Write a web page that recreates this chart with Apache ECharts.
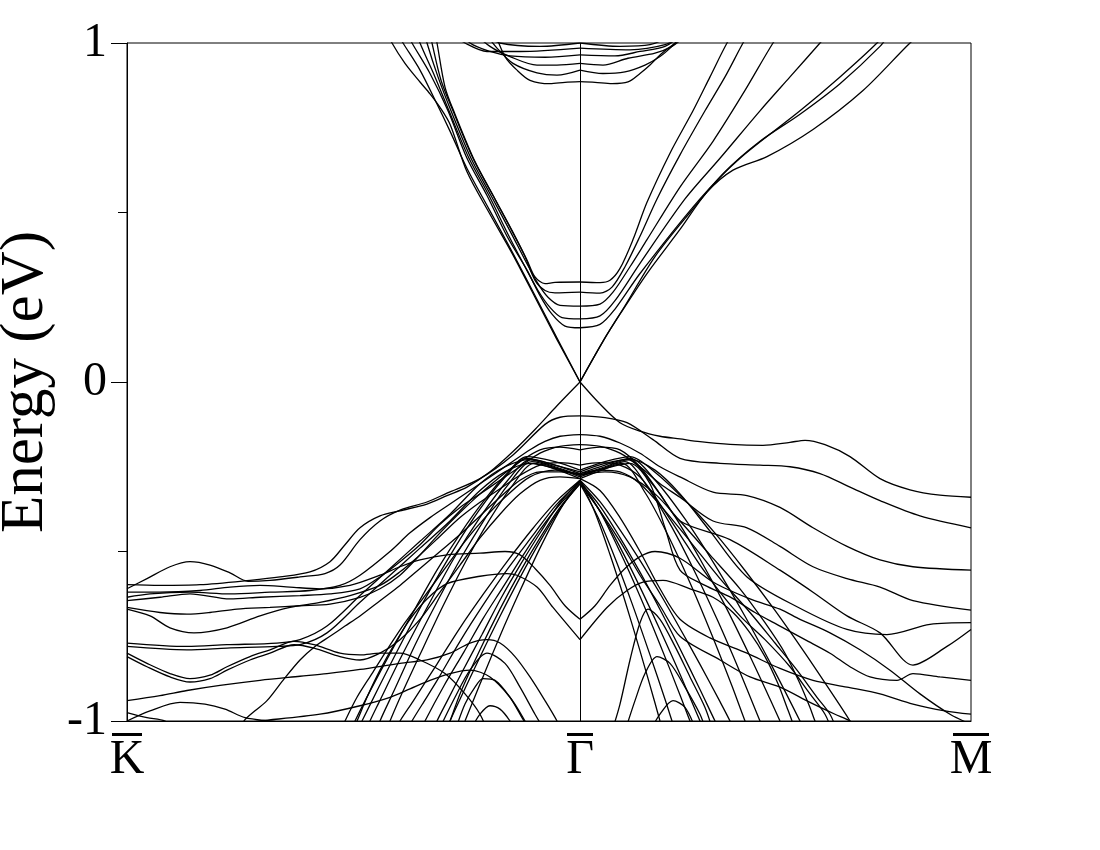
<!DOCTYPE html>
<html>
<head>
<meta charset="utf-8">
<title>Band structure</title>
<script src="https://cdn.jsdelivr.net/npm/echarts@6/dist/echarts.min.js"></script>
<style>
  html, body { margin: 0; padding: 0; background: #fff; }
  #chart { width: 1100px; height: 850px; }
</style>
</head>
<body>
<div id="chart"></div>
<script>
// k path (arb. units): K at 0, Gamma at 453, M at 844
const kPoints = [0, 453, 844]
const kNames = ['K', 'Γ', 'M']
const kGamma = 453

// conduction bands [k, E (eV)]
const coneUp1 = [[268,1.04],[276,1.0],[293,.92],[310,.82],[323,.74],[340,.63],[362,.51],[385,.385],[408,.255],[430,.13],[453,0],[478,.13],[493,.20],[520,.32],[553,.45],[580,.56],[606,.625],[640,.665],[686,.745],[736,.86],[783,1.0],[803,1.05]]
const coneUp2 = [[259,1.04],[265,1.0],[278,.94],[293,.885],[303,.85],[313,.81],[323,.76],[340,.62],[362,.50],[385,.38],[408,.25],[430,.125],[453,0],[476,.12],[498,.225],[528,.37],[563,.50],[598,.62],[633,.71],[673,.79],[713,.88],[753,.99],[763,1.03]]
const cb1 = [[306,1.06],[310,1.0],[318,.87],[328,.79],[348,.65],[368,.54],[388,.43],[400,.36],[408,.31],[418,.29],[428,.294],[453,.295],[473,.293],[483,.30],[493,.335],[506,.42],[520,.53],[543,.675],[566,.80],[583,.90],[600,1.0],[613,1.06]]
const cb2 = [[301,1.06],[305,1.0],[314,.89],[326,.80],[346,.66],[366,.55],[386,.44],[398,.37],[408,.30],[418,.27],[428,.263],[453,.265],[473,.262],[485,.28],[498,.34],[513,.43],[530,.54],[553,.67],[578,.80],[598,.90],[616,1.0],[628,1.06]]
const cb3 = [[295,1.06],[300,1.0],[311,.90],[324,.80],[344,.66],[364,.55],[384,.44],[398,.36],[411,.29],[421,.25],[433,.226],[453,.224],[473,.23],[486,.265],[503,.34],[520,.42],[553,.575],[586,.71],[618,.86],[646,1.0],[663,1.07]]
const cb4 = [[287,1.05],[293,1.0],[308,.90],[322,.80],[342,.66],[362,.55],[382,.43],[398,.34],[411,.27],[423,.22],[435,.19],[453,.186],[473,.195],[488,.24],[513,.35],[558,.54],[593,.66],[633,.80],[663,.90],[693,1.0],[711,1.06]]
const cb5 = [[278,1.04],[285,1.0],[303,.91],[321,.80],[340,.66],[360,.55],[380,.43],[400,.33],[413,.255],[425,.20],[438,.165],[453,.16],[473,.17],[488,.215],[513,.32],[573,.54],[613,.66],[673,.80],[713,.90],[750,1.0],[768,1.06]]

// upper conduction cluster around 0.9-1.0 eV
const ub1 = [[368,1.03],[378,.96],[390,.92],[403,.89],[423,.88],[438,.884],[453,.886],[468,.884],[485,.88],[501,.885],[513,.91],[523,.935],[535,.97],[548,1.0],[563,1.04]]
const ub2 = [[358,1.03],[370,.985],[386,.94],[410,.912],[430,.905],[453,.92],[476,.91],[498,.915],[518,.935],[533,.96],[545,.99],[558,1.03]]
const ub3 = [[343,1.04],[363,.99],[383,.96],[410,.935],[430,.935],[453,.94],[476,.935],[501,.955],[528,.97],[545,.99],[558,1.02]]
const ub4 = [[328,1.05],[343,1.0],[363,.975],[383,.962],[418,.958],[453,.965],[488,.962],[513,.975],[538,.99],[553,1.02]]
const ub5 = [[323,1.03],[338,1.0],[360,.975],[393,.975],[453,.985],[503,.98],[538,.995],[553,1.02]]
const ub6 = [[353,1.03],[373,1.0],[413,.99],[453,1.0],[493,.99],[523,.995],[543,1.02]]

// valence bands
const coneDown = [[0,-.598],[33,-.60],[73,-.598],[123,-.585],[153,-.575],[183,-.56],[203,-.53],[218,-.48],[233,-.43],[253,-.395],[273,-.38],[300,-.36],[320,-.335],[340,-.31],[363,-.265],[386,-.205],[408,-.14],[430,-.07],[453,0],[473,-.065],[493,-.12],[513,-.145],[533,-.16],[553,-.168],[573,-.176],[603,-.184],[636,-.187],[663,-.178],[678,-.172],[698,-.185],[723,-.22],[753,-.285],[783,-.318],[813,-.334],[844,-.34]]
const vb1 = [[0,-.61],[20,-.58],[43,-.545],[63,-.53],[83,-.54],[103,-.563],[121,-.588],[143,-.585],[173,-.575],[198,-.565],[213,-.54],[233,-.465],[253,-.41],[273,-.378],[300,-.354],[320,-.328],[353,-.285],[386,-.215],[418,-.125],[433,-.104],[453,-.10],[478,-.105],[500,-.12],[526,-.17],[553,-.225],[593,-.24],[633,-.245],[663,-.25],[693,-.27],[723,-.31],[753,-.35],[793,-.395],[844,-.43]]
const vb2 = [[0,-.635],[23,-.625],[63,-.62],[103,-.625],[143,-.62],[183,-.615],[213,-.60],[233,-.57],[263,-.50],[283,-.445],[303,-.40],[323,-.36],[343,-.32],[363,-.28],[383,-.24],[403,-.20],[418,-.175],[433,-.16],[453,-.155],[473,-.16],[493,-.18],[513,-.21],[533,-.25],[553,-.28],[586,-.325],[620,-.335],[653,-.37],[686,-.43],[720,-.485],[753,-.525],[786,-.545],[844,-.555]]
const vb3 = [[0,-.645],[33,-.635],[63,-.625],[103,-.64],[133,-.635],[173,-.63],[203,-.625],[233,-.61],[253,-.575],[273,-.53],[293,-.48],[313,-.42],[333,-.37],[353,-.33],[373,-.29],[393,-.25],[413,-.21],[433,-.19],[453,-.185],[473,-.19],[493,-.21],[513,-.25],[533,-.30],[553,-.34],[586,-.41],[620,-.43],[653,-.485],[686,-.545],[720,-.58],[753,-.605],[786,-.645],[844,-.673]]
const vb4 = [[0,-.665],[33,-.68],[60,-.685],[83,-.68],[110,-.67],[143,-.665],[173,-.66],[203,-.655],[233,-.635],[253,-.61],[273,-.57],[293,-.51],[313,-.445],[333,-.385],[353,-.33],[373,-.28],[393,-.235],[413,-.20],[433,-.192],[453,-.20],[473,-.192],[493,-.20],[513,-.25],[533,-.33],[553,-.41],[603,-.465],[653,-.555],[686,-.62],[720,-.69],[753,-.74],[786,-.835],[820,-.78],[844,-.73]]
const vb5 = [[0,-.77],[60,-.78],[100,-.775],[150,-.77],[173,-.76],[200,-.72],[233,-.63],[263,-.55],[293,-.47],[323,-.39],[353,-.30],[378,-.25],[403,-.228],[428,-.245],[453,-.265],[478,-.24],[503,-.228],[528,-.26],[553,-.33],[583,-.44],[620,-.575],[670,-.663],[720,-.73],[760,-.745],[803,-.715],[844,-.71]]
const vb6 = [[0,-.78],[60,-.79],[100,-.785],[150,-.78],[173,-.775],[200,-.74],[233,-.65],[263,-.57],[293,-.49],[323,-.41],[353,-.32],[378,-.265],[403,-.24],[428,-.255],[453,-.275],[478,-.255],[503,-.24],[523,-.30],[538,-.43],[553,-.555],[578,-.60],[603,-.634],[628,-.68],[653,-.72],[678,-.76],[703,-.80],[723,-.84],[743,-.87],[770,-.88],[786,-.86],[813,-.87],[844,-.88]]
const vb7 = [[0,-.67],[23,-.69],[43,-.725],[67,-.74],[100,-.725],[133,-.69],[163,-.665],[193,-.65],[223,-.63],[253,-.60],[273,-.56],[293,-.51],[313,-.455],[333,-.40],[353,-.355],[373,-.315],[393,-.275],[413,-.245],[433,-.238],[453,-.245],[473,-.238],[493,-.245],[513,-.28],[533,-.36],[553,-.45],[573,-.54],[593,-.62],[613,-.69],[638,-.76],[663,-.84],[683,-.92],[698,-.98],[705,-1.03]]
const vb8 = [[0,-.80],[20,-.83],[43,-.86],[63,-.875],[83,-.865],[100,-.84],[123,-.81],[143,-.79],[167,-.765],[187,-.775],[213,-.80],[233,-.805],[253,-.80],[273,-.80],[293,-.82],[318,-.86],[338,-.92],[353,-.98],[363,-1.05]]
const vb9 = [[0,-.81],[20,-.84],[43,-.87],[63,-.885],[83,-.875],[100,-.85],[123,-.82],[143,-.80],[167,-.775],[187,-.785],[213,-.81],[233,-.82],[253,-.80],[273,-.76],[293,-.70],[313,-.62],[333,-.54],[353,-.46],[373,-.39],[393,-.33],[413,-.29],[433,-.28],[453,-.285],[473,-.32],[493,-.40],[513,-.50],[533,-.61],[553,-.70],[583,-.755],[620,-.80],[653,-.845],[686,-.88],[720,-.90],[753,-.92],[786,-.95],[818,-.97],[844,-.98]]
const vb10 = [[0,-.94],[33,-.925],[60,-.91],[93,-.895],[133,-.88],[173,-.868],[200,-.86],[233,-.848],[273,-.83],[300,-.82],[323,-.80],[343,-.77],[360,-.76],[373,-.77],[388,-.81],[403,-.87],[418,-.94],[430,-1.0],[438,-1.05]]
const vb11 = [[0,-1.0],[23,-.97],[53,-.945],[78,-.95],[98,-.965],[118,-.99],[143,-1.0],[173,-1.01]]
const vb12 = [[0,-.975],[20,-.99],[38,-1.0],[53,-1.03]]
const vb13 = [[73,-1.02],[133,-1.0],[193,-.98],[233,-.955],[263,-.93],[283,-.905],[303,-.88],[323,-.86],[343,-.85],[363,-.87],[383,-.93],[398,-1.0],[405,-1.04]]
const vb14 = [[108,-1.05],[117,-1.0],[128,-.97],[140,-.94],[156,-.88],[173,-.82],[188,-.78],[203,-.75],[218,-.72],[233,-.69],[253,-.645],[273,-.60],[293,-.55],[313,-.50],[333,-.45],[353,-.395],[373,-.34],[393,-.29],[413,-.265],[433,-.265],[453,-.27],[473,-.26],[493,-.265],[513,-.30],[538,-.38],[563,-.47],[593,-.58],[623,-.68],[648,-.77],[670,-.85],[690,-.93],[703,-.98],[710,-1.03]]
const vb15 = [[212,-1.04],[218,-1.0],[230,-.93],[245,-.86],[260,-.79],[278,-.71],[298,-.63],[318,-.55],[338,-.47],[358,-.40],[378,-.34],[403,-.28],[428,-.26],[453,-.275],[478,-.265],[503,-.28],[528,-.33],[553,-.41],[583,-.51],[613,-.61],[638,-.71],[658,-.80],[673,-.89],[683,-.96],[688,-1.0],[693,-1.03]]

// central valence "mountain"
const mb1 = [[220,-1.05],[228,-1.0],[243,-.912],[266,-.785],[289,-.664],[311,-.55],[334,-.444],[357,-.35],[380,-.27],[400,-.22],[428,-.235],[453,-.26],[478,-.235],[503,-.22],[528,-.266],[558,-.349],[588,-.446],[618,-.556],[648,-.674],[678,-.80],[708,-.932],[723,-1.0],[733,-1.05]]
const mb2 = [[226,-1.05],[235,-1.0],[252,-.899],[277,-.755],[302,-.619],[327,-.493],[352,-.379],[377,-.284],[400,-.225],[428,-.245],[453,-.27],[478,-.245],[503,-.225],[528,-.289],[558,-.404],[588,-.54],[618,-.691],[648,-.855],[673,-1.0],[681,-1.05]]
const mb3 = [[236,-1.05],[243,-1.0],[252,-.945],[274,-.812],[301,-.66],[327,-.52],[354,-.395],[381,-.289],[403,-.23],[428,-.25],[453,-.275],[478,-.25],[501,-.23],[523,-.292],[548,-.397],[573,-.522],[598,-.659],[623,-.809],[643,-.935],[653,-1.0],[661,-1.05]]
const mb4 = [[247,-1.05],[253,-1.0],[267,-.911],[289,-.77],[312,-.638],[335,-.514],[358,-.403],[380,-.307],[405,-.235],[430,-.255],[453,-.28],[476,-.255],[498,-.235],[521,-.312],[545,-.429],[568,-.561],[591,-.706],[613,-.856],[633,-1.0],[640,-1.05]]
const mb5 = [[256,-1.05],[263,-1.0],[274,-.925],[293,-.804],[316,-.661],[339,-.528],[362,-.409],[385,-.307],[407,-.24],[431,-.26],[453,-.285],[475,-.26],[495,-.24],[518,-.326],[540,-.446],[563,-.592],[585,-.747],[605,-.897],[618,-1.0],[625,-1.05]]
const mb6 = [[266,-1.04],[273,-1.0],[286,-.942],[310,-.832],[333,-.725],[357,-.623],[381,-.526],[405,-.435],[429,-.353],[453,-.29],[473,-.353],[493,-.436],[513,-.526],[533,-.624],[553,-.727],[573,-.833],[593,-.943],[603,-1.0],[609,-1.04]]
const mb7 = [[278,-1.04],[285,-1.0],[295,-.952],[310,-.881],[333,-.765],[357,-.654],[381,-.55],[406,-.452],[429,-.363],[453,-.295],[473,-.366],[493,-.459],[513,-.561],[533,-.671],[553,-.787],[573,-.907],[588,-1.0],[595,-1.04]]
const mb8 = [[290,-1.05],[298,-1.0],[317,-.896],[337,-.796],[356,-.698],[376,-.605],[395,-.516],[414,-.432],[434,-.357],[453,-.30],[473,-.381],[493,-.487],[513,-.605],[533,-.731],[553,-.862],[573,-1.0],[581,-1.05]]
const mb9 = [[303,-1.05],[310,-1.0],[320,-.942],[335,-.856],[355,-.745],[374,-.638],[394,-.536],[414,-.441],[433,-.356],[453,-.29],[473,-.382],[493,-.501],[513,-.632],[533,-.774],[553,-.923],[563,-1.0],[570,-1.05]]
const mb10 = [[316,-1.05],[323,-1.0],[333,-.936],[353,-.811],[373,-.691],[393,-.577],[413,-.47],[433,-.374],[453,-.30],[471,-.399],[488,-.519],[505,-.653],[523,-.805],[538,-.936],[545,-1.0],[551,-1.05]]
const mb11 = [[331,-1.05],[338,-1.0],[353,-.891],[373,-.749],[393,-.616],[413,-.49],[433,-.377],[453,-.29],[468,-.385],[483,-.509],[498,-.646],[513,-.793],[528,-.947],[533,-1.0],[538,-1.05]]
const mb12 = [[318,-1.03],[323,-1.0],[333,-.92],[353,-.79],[373,-.67],[393,-.56],[413,-.46],[433,-.37],[453,-.30],[473,-.38],[493,-.47],[513,-.57],[533,-.66],[553,-.75],[593,-.82],[623,-.87],[653,-.90],[683,-.945],[708,-.98],[723,-1.0],[733,-1.02]]

// W-shaped bands and small humps below the mountain top
const wb1 = [[0,-.62],[33,-.62],[73,-.615],[103,-.605],[133,-.60],[163,-.605],[193,-.61],[223,-.60],[253,-.57],[273,-.545],[293,-.525],[320,-.51],[353,-.505],[378,-.50],[393,-.51],[408,-.55],[423,-.60],[438,-.66],[453,-.70],[468,-.66],[483,-.60],[498,-.55],[513,-.515],[528,-.50],[553,-.52],[586,-.59],[623,-.64],[653,-.67],[673,-.70],[703,-.74],[733,-.79],[763,-.85],[793,-.92],[823,-.98],[844,-1.01]]
const wb2 = [[225,-1.03],[230,-1.0],[240,-.93],[253,-.85],[268,-.77],[283,-.70],[300,-.64],[320,-.595],[353,-.573],[380,-.565],[390,-.57],[410,-.605],[426,-.665],[453,-.76],[480,-.665],[500,-.615],[516,-.59],[536,-.585],[563,-.61],[586,-.635],[606,-.68],[623,-.74],[638,-.81],[651,-.89],[660,-.96],[665,-1.0],[668,-1.03]]
const hb1 = [[313,-1.02],[328,-.93],[343,-.85],[360,-.80],[378,-.83],[393,-.90],[408,-.98],[418,-1.03]]
const hb2 = [[328,-1.03],[338,-.95],[348,-.90],[356,-.875],[368,-.88],[383,-.93],[395,-.99],[403,-1.03]]
const hb3 = [[343,-1.03],[353,-.98],[363,-.955],[373,-.965],[383,-1.0],[388,-1.03]]
const hb4 = [[485,-1.03],[493,-.95],[503,-.82],[513,-.71],[521,-.67],[533,-.70],[548,-.78],[563,-.87],[578,-.96],[585,-1.02]]
const hb5 = [[498,-1.03],[508,-.94],[518,-.86],[530,-.81],[543,-.83],[558,-.90],[573,-.98],[578,-1.02]]
const hb6 = [[523,-1.03],[533,-.98],[546,-.94],[558,-.96],[568,-1.02]]

const bands = [
  coneUp1, coneUp2, cb1, cb2, cb3, cb4, cb5,
  ub1, ub2, ub3, ub4, ub5, ub6,
  coneDown, vb1, vb2, vb3, vb4, vb5, vb6, vb7, vb8, vb9, vb10, vb11, vb12, vb13, vb14, vb15,
  mb1, mb2, mb3, mb4, mb5, mb6, mb7, mb8, mb9, mb10, mb11, mb12,
  wb1, wb2, hb1, hb2, hb3, hb4, hb5, hb6,
]

// split each band at Gamma so cusps (Dirac point etc.) stay sharp
const pieces = []
bands.forEach(band => {
  const left = band.filter(p => p[0] <= kGamma)
  const right = band.filter(p => p[0] >= kGamma)
  const crossesGamma = left.length && right.length && left[left.length - 1][0] === kGamma
  if (crossesGamma) {
    pieces.push(left, right)
  } else {
    pieces.push(band)
  }
})

const serif = "'Liberation Serif', 'DejaVu Serif', serif"
const chart = echarts.init(document.getElementById('chart'))

const series = pieces.map((data, i) => ({
  type: 'line',
  data,
  smooth: 0.3,
  showSymbol: false,
  silent: true,
  lineStyle: { color: '#000', width: 1.3 },
  markLine: i === 0 ? {
    silent: true,
    symbol: 'none',
    label: { show: false },
    lineStyle: { color: '#000', width: 1, type: 'solid' },
    data: [{ xAxis: kGamma }],
  } : undefined,
}))

const option = {
  animation: false,
  backgroundColor: '#fff',
  grid: {
    left: 127,
    right: 129,
    top: 43,
    bottom: 129,
    show: true,
    borderColor: '#000',
    borderWidth: 1,
    containLabel: false,
    outerBoundsMode: 'none',
  },
  xAxis: {
    type: 'value',
    min: 0,
    max: 844,
    axisLine: { show: true, onZero: false, lineStyle: { color: '#000', width: 1 } },
    axisTick: { show: false },
    splitLine: { show: false },
    axisLabel: {
      customValues: kPoints,
      margin: 12,
      formatter: (v) => {
        const i = kPoints.indexOf(v)
        const bar = ['barK', 'barG', 'barM'][i]
        return `{${bar}| }\n{t|${kNames[i]}}`
      },
      rich: {
        barK: { width: 30, height: 3, backgroundColor: '#000' },
        barG: { width: 26, height: 3, backgroundColor: '#000' },
        barM: { width: 36, height: 3, backgroundColor: '#000' },
        t: { fontSize: 48, fontFamily: serif, color: '#000', lineHeight: 44, padding: [4, 0, 0, 0] },
      },
    },
  },
  yAxis: {
    type: 'value',
    min: -1,
    max: 1,
    interval: 1,
    name: 'Energy (eV)',
    nameLocation: 'middle',
    nameGap: 70,
    nameTextStyle: { fontSize: 61, fontFamily: serif, color: '#000' },
    axisLine: { show: true, onZero: false, lineStyle: { color: '#000', width: 1 } },
    axisTick: { show: true, inside: false, length: 16, lineStyle: { color: '#000' } },
    minorTick: { show: true, splitNumber: 2, length: 9, lineStyle: { color: '#000' } },
    splitLine: { show: false },
    axisLabel: { fontSize: 48, fontFamily: serif, color: '#000', margin: 20 },
  },
  series,
}

chart.setOption(option)
</script>
</body>
</html>
